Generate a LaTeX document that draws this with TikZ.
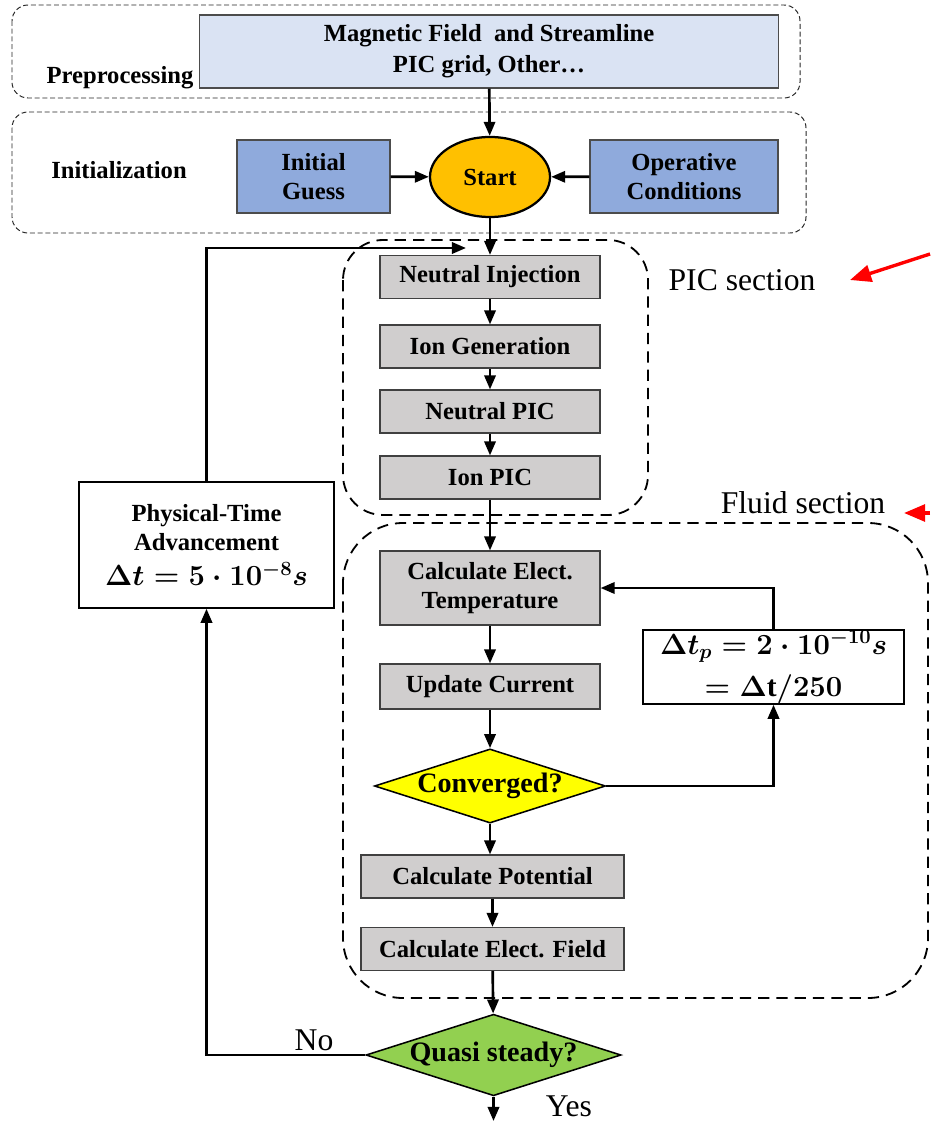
\documentclass[tikz,border=0pt]{standalone}
\usepackage{fontspec}
\setmainfont{Liberation Serif}
\usepackage{amsmath}
\usetikzlibrary{arrows.meta,shapes.geometric}
\definecolor{preblue}{HTML}{DAE3F3}
\definecolor{initblue}{HTML}{8FAADC}
\definecolor{startorange}{HTML}{FFC000}
\definecolor{stepgray}{HTML}{D0CECE}
\definecolor{convyellow}{HTML}{FFFF00}
\definecolor{quasigreen}{HTML}{92D050}
\definecolor{arrowred}{HTML}{FF0000}
\begin{document}
\begin{tikzpicture}[x=0.025cm,y=-0.025cm,
        >={Triangle[length=10pt,width=8pt]},
        every node/.style={font=\bfseries\fontsize{17.5}{21}\selectfont,align=center,inner sep=0pt},
        title/.style={},
        sect/.style={font=\fontsize{22.5}{26}\selectfont},
        prebox/.style={draw=black!70,line width=0.8pt,fill=preblue,minimum width=14.45cm,minimum height=1.825cm},
        initbox/.style={draw=black!70,line width=0.8pt,fill=initblue,minimum height=1.825cm},
        stepbox/.style={draw=black!75,line width=0.8pt,fill=stepgray,minimum width=5.5cm,minimum height=1.075cm},
        longbox/.style={stepbox,minimum width=6.575cm},
        whitebox/.style={draw=black,line width=1pt,fill=white},
        decision/.style={diamond,draw=black,line width=1.1pt,aspect=3,font=\bfseries\fontsize{20}{24}\selectfont},
        arr/.style={->,line width=1.9pt},
        redarr/.style={-{Triangle[length=15pt,width=12pt]},arrowred,line width=2.4pt},
        thinframe/.style={dash pattern=on 3.5pt off 2pt,line width=0.7pt,black!85,rounded corners=0.4cm},
        sectframe/.style={dash pattern=on 8pt off 5pt,line width=1.3pt,rounded corners=#1},
        yn/.style={font=\fontsize{22.5}{26}\selectfont}]
        \useasboundingbox (0,0) rectangle (930,1122);
        \draw [thinframe] (12,5) rectangle (800,98);
        \draw [thinframe] (12,112) rectangle (806,233);
        \draw [sectframe=1cm] (343,240) rectangle (648,515);
        \draw [sectframe=1.5cm] (343,523) rectangle (928,998);
        \node [title] (pretitle) at (120,78) {Preprocessing};
        \node [title] (inittitle) at (119,170) {Initialization};
        \node [prebox] (field) at (489,51.5) {Magnetic Field\ \ and Streamline\\[1pt]PIC grid, Other\ldots};
        \node [initbox,minimum width=3.825cm] (guess) at (313.5,176.5) {Initial\\Guess};
        \node [ellipse,draw=black,line width=1.6pt,fill=startorange,minimum width=3cm,minimum height=2cm] (start) at (490,177) {Start};
        \node [initbox,minimum width=4.7cm] (oper) at (684,176.5) {Operative\\Conditions};
        \node [stepbox] (inj) at (490,277) {Neutral Injection};
        \node [stepbox] (iongen) at (490,346.5) {Ion Generation};
        \node [stepbox] (neupic) at (490,411.5) {Neutral PIC};
        \node [stepbox] (ionpic) at (490,477.5) {Ion PIC};
        \node [sect] (piclabel) at (742,280) {PIC section};
        \node [sect] (fluidlabel) at (803,503) {Fluid section};
        \node [stepbox,minimum height=1.85cm] (temp) at (490,588) {Calculate Elect.\\Temperature};
        \node [stepbox,minimum height=1.125cm] (curr) at (490,686.5) {Update Current};
        \node [decision,fill=convyellow,minimum width=5.775cm,minimum height=1.85cm] (conv) at (490,786) {Converged?};
        \node [whitebox,minimum width=6.525cm,minimum height=1.85cm,font=\bfseries\boldmath\fontsize{21}{30}\selectfont] (dtp) at (773.5,667) {$\Delta t_p = 2\cdot 10^{-10}s$\\$=\Delta\mathrm{t}/250$};
        \node [longbox] (pot) at (492.5,876.5) {Calculate Potential};
        \node [longbox] (efield) at (492.5,949) {Calculate Elect. Field};
        \node [decision,fill=quasigreen,minimum width=6.375cm,minimum height=1.9cm] (quasi) at (493.5,1055) {Quasi steady?};
        \node [whitebox,minimum width=6.375cm,minimum height=3.15cm] (phys) at (206.5,545) {Physical-Time\\Advancement\\[4pt]{\boldmath\fontsize{19.5}{23}\selectfont$\Delta t = 5\cdot 10^{-8}s$}};
        \node [yn] (no) at (314,1040) {No};
        \node [yn] (yes) at (569,1106) {Yes};
        \coordinate (loopend) at (466,248);
        \coordinate (exit) at (493.5,1121);
        \coordinate (picredstart) at (930,254);
        \coordinate (picredend) at (850,280);
        \coordinate (fluidredstart) at (930,513);
        \coordinate (fluidredend) at (904,513);
        \draw [arr] (field) -- (start);
        \draw [arr] (guess) -- (start);
        \draw [arr] (oper) -- (start);
        \draw [arr] (start) -- (inj);
        \draw [arr] (inj) -- (iongen);
        \draw [arr] (iongen) -- (neupic);
        \draw [arr] (neupic) -- (ionpic);
        \draw [arr] (ionpic) -- (temp);
        \draw [arr] (temp) -- (curr);
        \draw [arr] (curr) -- (conv);
        \draw [arr] (conv.east) -| (dtp.south);
        \draw [arr] (dtp.north) |- (temp.east);
        \draw [arr] (conv) -- (conv |- pot.north);
        \draw [arr] (pot) -- (efield);
        \draw [arr] (efield) -- (quasi);
        \draw [arr] (quasi) -- (exit);
        \draw [arr] (quasi.west) -| (phys.south);
        \draw [arr] (phys.north) |- (loopend);
        \draw [redarr] (picredstart) -- (picredend);
        \draw [redarr] (fluidredstart) -- (fluidredend);
    \end{tikzpicture}
\end{document}
